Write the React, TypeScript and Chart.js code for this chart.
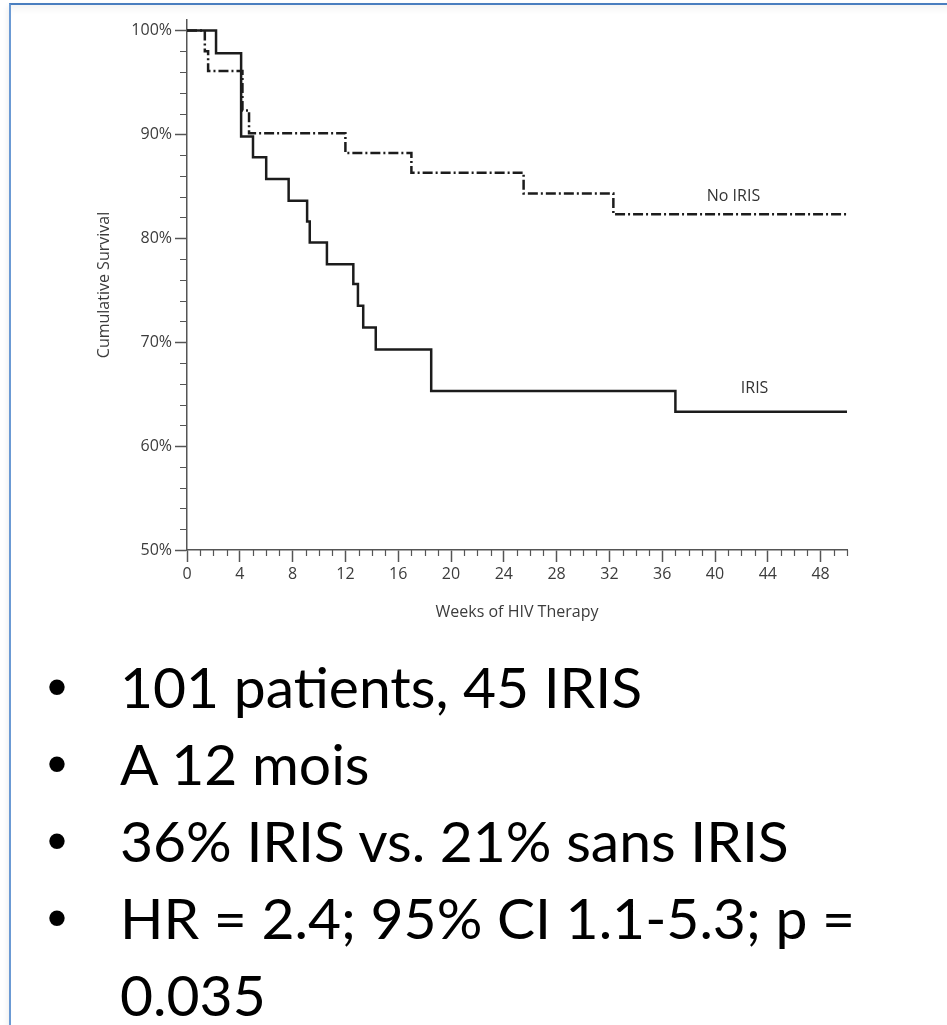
import React, { useEffect, useRef } from 'react';
import { Chart, registerables } from 'chart.js';

Chart.register(...registerables);

// Kaplan–Meier steps (weeks, cumulative survival %)
const irisWeeks = [0, 2.2, 4.1, 5.0, 6.0, 7.7, 9.1, 9.3, 10.6, 12.6, 12.95, 13.35, 14.3, 18.5, 37.0, 50];
const irisSurvival = [100, 97.8, 89.8, 87.8, 85.7, 83.6, 81.6, 79.6, 77.5, 75.6, 73.5, 71.4, 69.3, 65.3, 63.3, 63.3];

const noIrisWeeks = [0, 1.35, 1.6, 4.2, 4.7, 12.0, 17.0, 25.5, 32.3, 50];
const noIrisSurvival = [100, 98.0, 96.1, 92.3, 90.1, 88.2, 86.3, 84.3, 82.3, 82.3];

const xMajorTicks = [0, 4, 8, 12, 16, 20, 24, 28, 32, 36, 40, 44, 48];
const yMajorTicks = [50, 60, 70, 80, 90, 100];
const xMinorStep = 1;
const yMinorStep = 2;

const seriesLabels = [
  { text: 'No IRIS', week: 41.4, value: 84.0 },
  { text: 'IRIS', week: 43.0, value: 65.5 },
];

const xTitle = 'Weeks of HIV Therapy';
const yTitle = 'Cumulative Survival';

const bulletLines = [
  '101 patients, 45 IRIS',
  'A 12 mois',
  '36% IRIS vs. 21% sans IRIS',
  'HR = 2.4; 95% CI 1.1-5.3; p = 0.035',
];

const AXIS_COLOR = '#555';
const TEXT_COLOR = '#3c3c3c';
const FONT = "'Open Sans', 'Noto Sans', sans-serif";

const minorTicksPlugin = {
  id: 'minorTicks',
  afterDraw(chart: any) {
    const { ctx, scales } = chart;
    const x = scales.x;
    const y = scales.y;
    ctx.save();
    ctx.strokeStyle = AXIS_COLOR;
    ctx.lineWidth = 1.2;
    ctx.beginPath();
    for (let w = x.min; w <= x.max + 1e-9; w += xMinorStep) {
      if (xMajorTicks.includes(w)) continue;
      const px = Math.round(x.getPixelForValue(w)) + 0.5;
      ctx.moveTo(px, y.bottom);
      ctx.lineTo(px, y.bottom + 6);
    }
    for (let v = 50; v <= 100 + 1e-9; v += yMinorStep) {
      if (yMajorTicks.includes(v)) continue;
      const py = Math.round(y.getPixelForValue(v)) + 0.5;
      ctx.moveTo(x.left, py);
      ctx.lineTo(x.left - 7, py);
    }
    ctx.stroke();
    ctx.restore();
  },
};

const seriesLabelPlugin = {
  id: 'seriesLabels',
  afterDatasetsDraw(chart: any) {
    const { ctx, scales } = chart;
    ctx.save();
    ctx.fillStyle = '#333';
    ctx.font = `16px ${FONT}`;
    ctx.textAlign = 'center';
    ctx.textBaseline = 'middle';
    for (const l of seriesLabels) {
      ctx.fillText(l.text, scales.x.getPixelForValue(l.week), scales.y.getPixelForValue(l.value));
    }
    ctx.restore();
  },
};

function SurvivalChart() {
  const ref = useRef<HTMLCanvasElement | null>(null);
  useEffect(() => {
    if (!ref.current) return;
    const chart = new Chart(ref.current, {
      type: 'line',
      data: {
        datasets: [
          {
            label: 'IRIS',
            data: irisWeeks.map((w, i) => ({ x: w, y: irisSurvival[i] })),
            stepped: 'before',
            borderColor: '#1c1c1c',
            borderWidth: 2.5,
            pointRadius: 0,
            fill: false,
          },
          {
            label: 'No IRIS',
            data: noIrisWeeks.map((w, i) => ({ x: w, y: noIrisSurvival[i] })),
            stepped: 'before',
            borderColor: '#1c1c1c',
            borderWidth: 2.5,
            borderDash: [10, 3, 2, 3],
            pointRadius: 0,
            fill: false,
          },
        ],
      },
      options: {
        responsive: false,
        animation: false,
        events: [],
        layout: { padding: { left: 94, top: 20, right: 100, bottom: 7 } },
        plugins: { legend: { display: false }, tooltip: { enabled: false } },
        scales: {
          x: {
            type: 'linear',
            min: 0,
            max: 50,
            afterBuildTicks: (s: any) => {
              s.ticks = xMajorTicks.map((v) => ({ value: v }));
            },
            afterFit: (s: any) => {
              s.height = 73;
            },
            ticks: {
              autoSkip: false,
              maxRotation: 0,
              padding: 3,
              color: TEXT_COLOR,
              font: { family: FONT, size: 16 },
            },
            grid: {
              drawOnChartArea: false,
              drawTicks: true,
              tickLength: 12,
              tickColor: AXIS_COLOR,
              tickWidth: 1.5,
            },
            border: { display: true, color: AXIS_COLOR, width: 1.5 },
            title: {
              display: true,
              text: xTitle,
              color: TEXT_COLOR,
              font: { family: FONT, size: 16 },
              padding: { top: 1, bottom: 1 },
            },
          },
          y: {
            type: 'linear',
            min: 50,
            max: 101,
            afterBuildTicks: (s: any) => {
              s.ticks = yMajorTicks.map((v) => ({ value: v }));
            },
            afterFit: (s: any) => {
              s.width = 93;
            },
            ticks: {
              autoSkip: false,
              padding: 3,
              color: TEXT_COLOR,
              font: { family: FONT, size: 16 },
              callback: (v: any) => `${v}%`,
            },
            grid: {
              drawOnChartArea: false,
              drawTicks: true,
              tickLength: 12,
              tickColor: AXIS_COLOR,
              tickWidth: 1.5,
            },
            border: { display: true, color: AXIS_COLOR, width: 1.5 },
            title: {
              display: true,
              text: yTitle,
              color: TEXT_COLOR,
              font: { family: FONT, size: 16 },
              padding: { top: 1, bottom: 1 },
            },
          },
        },
      },
      plugins: [minorTicksPlugin, seriesLabelPlugin],
    } as any);
    return () => chart.destroy();
  }, []);
  return <canvas ref={ref} width={947} height={630} style={{ position: 'absolute', left: 0, top: 0 }} />;
}

export default function App() {
  return (
    <div
      style={{
        position: 'absolute',
        left: 0,
        top: 0,
        width: 947,
        height: 1025,
        overflow: 'hidden',
        background: '#fff',
      }}
    >
      <div
        style={{
          position: 'absolute',
          left: 9,
          top: 3,
          width: 960,
          height: 1040,
          borderTop: '2px solid #4a7ebf',
          borderLeft: '2px solid #6b9ad4',
          boxShadow: 'inset 0 9px 8px -6px rgba(0,0,0,0.06), -4px 0 6px -3px rgba(0,0,0,0.08)',
        }}
      />
      <SurvivalChart />
      <div
        style={{
          position: 'absolute',
          left: 0,
          top: 648,
          width: 900,
          fontFamily: "Lato, 'Open Sans', sans-serif",
          fontSize: 57,
          lineHeight: '77px',
          color: '#000',
        }}
      >
        {bulletLines.map((line, i) => (
          <div key={i} style={{ position: 'relative', paddingLeft: 120 }}>
            <span
              style={{
                position: 'absolute',
                left: 47,
                top: 0,
                fontFamily: "'Liberation Sans', Arial, sans-serif",
              }}
            >
              •
            </span>
            {line}
          </div>
        ))}
      </div>
    </div>
  );
}
